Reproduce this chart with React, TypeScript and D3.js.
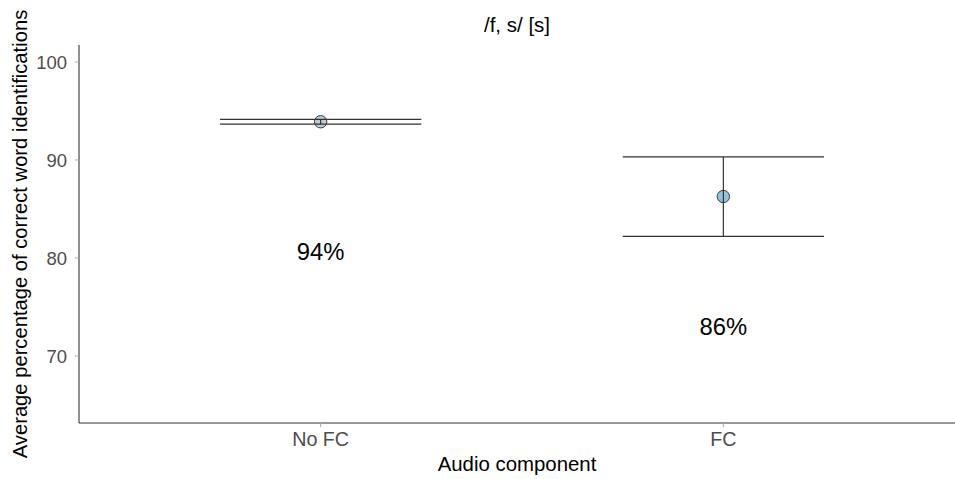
import React from "react";
import * as d3 from "d3";

// Mean percentage of correct word identifications per audio condition
const categories = ["No FC", "FC"];
const means = [93.9, 86.27];
const lower = [93.65, 82.2];
const upper = [94.15, 90.31];
const pointFills = ["#bccbda", "#92c0de"];
const valueLabels = ["94%", "86%"];
const labelOffset = 13.3;
const yTicks = [70, 80, 90, 100];

const W = 955;
const H = 479;
const M = { left: 79, top: 45, bottom: 56 };
const PANEL_RIGHT = 965;
const FONT = "'Liberation Sans', Arial, Helvetica, sans-serif";

export default function App() {
  const xs = d3
    .scalePoint<string>()
    .domain(categories)
    .range([M.left, PANEL_RIGHT])
    .padding(0.6);
  const step = xs.step();
  const y = d3.scaleLinear().domain([63.16, 101.73]).range([H - M.bottom, M.top]);
  const capHalf = step * 0.25;
  const textGray = "#4d4d4d";
  const axisCol = "#333333";

  return (
    <svg width={W} height={H} style={{ position: "absolute", left: 0, top: 0 }}>
      <rect width={W} height={H} fill="#ffffff" />
      {/* axes */}
      <line x1={M.left} x2={M.left} y1={M.top} y2={H - M.bottom} stroke={axisCol} strokeWidth={1.1} />
      <line x1={M.left} x2={W} y1={H - M.bottom} y2={H - M.bottom} stroke={axisCol} strokeWidth={1.1} />
      {yTicks.map((t) => (
        <g key={t}>
          <line x1={M.left - 4} x2={M.left} y1={y(t)} y2={y(t)} stroke="#aaa" strokeWidth={1} />
          <text x={M.left - 12} y={y(t)} dy="0.36em" textAnchor="end" fontFamily={FONT} fontSize={18.5} fill={textGray}>
            {t}
          </text>
        </g>
      ))}
      {categories.map((c) => (
        <g key={c}>
          <line x1={xs(c)} x2={xs(c)} y1={H - M.bottom} y2={H - M.bottom + 4} stroke="#aaa" strokeWidth={1} />
          <text x={xs(c)} y={446} textAnchor="middle" fontFamily={FONT} fontSize={19.7} fill={textGray}>
            {c}
          </text>
        </g>
      ))}
      {/* points, with the error bars drawn over them */}
      {categories.map((c, i) => (
        <circle key={"p" + c} cx={xs(c)} cy={y(means[i])} r={6.2} fill={pointFills[i]} stroke="#3a3a3a" strokeWidth={1} />
      ))}
      {categories.map((c, i) => {
        const cx = xs(c) as number;
        return (
          <g key={"e" + c} stroke="#333" strokeWidth={1.2}>
            <line x1={cx - capHalf} x2={cx + capHalf} y1={y(upper[i])} y2={y(upper[i])} />
            <line x1={cx - capHalf} x2={cx + capHalf} y1={y(lower[i])} y2={y(lower[i])} />
            <line x1={cx} x2={cx} y1={y(upper[i])} y2={y(lower[i])} />
          </g>
        );
      })}
      {categories.map((c, i) => (
        <text
          key={"l" + c}
          x={xs(c)}
          y={y(means[i] - labelOffset)}
          dy="0.35em"
          textAnchor="middle"
          fontFamily={FONT}
          fontSize={23.8}
          fill="#000"
        >
          {valueLabels[i]}
        </text>
      ))}
      {/* titles */}
      <text x={(M.left + W) / 2} y={32} textAnchor="middle" fontFamily={FONT} fontSize={20.5} fill="#000">
        /f, s/ [s]
      </text>
      <text x={(M.left + W) / 2} y={471} textAnchor="middle" fontFamily={FONT} fontSize={20.4} fill="#000">
        Audio component
      </text>
      <text
        transform={`translate(27, 234) rotate(-90)`}
        textAnchor="middle"
        fontFamily={FONT}
        fontSize={20.2}
        fill="#000"
      >
        Average percentage of correct word identifications
      </text>
    </svg>
  );
}
